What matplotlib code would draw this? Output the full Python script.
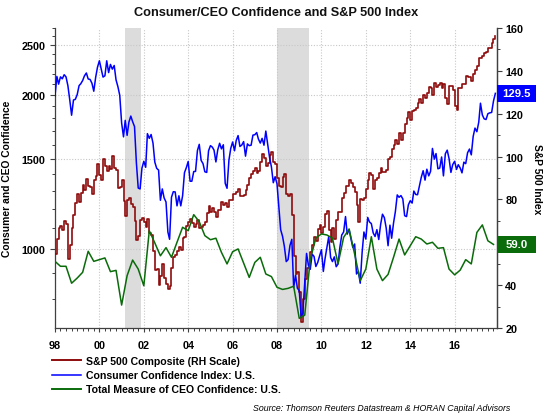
import numpy as np
import pandas as pd
import matplotlib
matplotlib.use("Agg")
import matplotlib.pyplot as plt
import matplotlib.dates as mdates
import matplotlib.ticker as mticker
from matplotlib.patches import Rectangle
from matplotlib.transforms import blended_transform_factory
from matplotlib.lines import Line2D

plt.rcParams['font.family'] = ['Liberation Sans', 'DejaVu Sans']
plt.rcParams['font.weight'] = 'bold'

# ---------------- data ----------------
sp500 = [
    980, 1049, 1102, 1112, 1091, 1134, 1121, 957, 1017, 1099, 1164, 1229,
    1280, 1238, 1286, 1335, 1302, 1373, 1329, 1320, 1283, 1363, 1389, 1469,
    1394, 1366, 1499, 1452, 1421, 1455, 1431, 1518, 1437, 1429, 1315, 1320,
    1366, 1240, 1160, 1249, 1256, 1224, 1211, 1134, 1041, 1060, 1139, 1148,
    1130, 1107, 1147, 1077, 1067, 990, 912, 916, 850, 886, 936, 880,
    856, 835, 848, 917, 964, 975, 990, 1008, 996, 1051, 1058, 1112,
    1131, 1145, 1126, 1107, 1121, 1141, 1102, 1104, 1115, 1130, 1174, 1212,
    1181, 1204, 1181, 1157, 1192, 1191, 1234, 1220, 1229, 1207, 1249, 1248,
    1280, 1281, 1295, 1311, 1270, 1270, 1277, 1304, 1336, 1378, 1401, 1418,
    1438, 1407, 1421, 1482, 1531, 1503, 1455, 1474, 1527, 1549, 1481, 1468,
    1379, 1331, 1323, 1386, 1400, 1280, 1267, 1283, 1166, 969, 896, 903,
    826, 720, 798, 873, 919, 919, 987, 1021, 1057, 1036, 1096, 1115,
    1074, 1104, 1169, 1187, 1089, 1031, 1102, 1049, 1141, 1183, 1181, 1258,
    1286, 1327, 1326, 1364, 1345, 1321, 1292, 1219, 1131, 1253, 1247, 1258,
    1312, 1366, 1408, 1398, 1310, 1362, 1379, 1407, 1441, 1412, 1416, 1426,
    1498, 1515, 1569, 1598, 1631, 1606, 1686, 1633, 1682, 1757, 1806, 1848,
    1783, 1859, 1872, 1884, 1924, 1960, 1931, 2003, 1972, 2018, 2068, 2059,
    1995, 2105, 2068, 2086, 2107, 2063, 2104, 1972, 1920, 2079, 2080, 2044,
    1900, 1870, 2060, 2065, 2097, 2099, 2174, 2171, 2168, 2126, 2199, 2239,
    2279, 2364, 2363, 2384, 2412, 2423, 2470, 2472, 2519, 2575, 2610,
]

consumer_conf = [
    128.3, 137.4, 133.8, 137.2, 136.3, 138.2, 137.2, 133.1, 126.4, 119.3, 126.4, 126.7,
    128.9, 133.1, 134.0, 135.5, 137.7, 139.0, 136.2, 136.0, 134.2, 130.5, 137.0, 141.7,
    144.7, 140.8, 137.1, 137.7, 144.7, 139.2, 143.0, 140.8, 142.5, 135.8, 132.6, 128.6,
    115.7, 109.2, 116.9, 109.9, 116.1, 118.9, 116.3, 114.0, 97.0, 85.3, 84.9, 94.6,
    97.8, 95.0, 110.7, 108.5, 110.3, 106.3, 97.4, 94.5, 93.7, 79.6, 84.9, 80.7,
    78.8, 64.8, 61.4, 81.0, 83.6, 83.5, 77.0, 81.7, 77.0, 81.7, 92.5, 94.8,
    97.7, 88.5, 88.5, 93.0, 93.1, 102.8, 105.7, 98.2, 96.7, 92.9, 92.6, 102.7,
    105.1, 104.4, 103.0, 97.5, 103.1, 106.2, 103.6, 105.5, 87.5, 85.2, 98.3, 103.8,
    106.8, 102.7, 107.5, 109.8, 104.7, 105.4, 107.0, 100.2, 105.9, 105.1, 105.3, 110.0,
    110.2, 111.2, 108.2, 106.3, 108.5, 105.3, 111.9, 105.6, 99.5, 95.2, 87.8, 90.6,
    87.3, 76.4, 65.9, 62.8, 58.1, 51.0, 51.9, 58.5, 61.4, 38.8, 44.7, 38.6,
    37.4, 25.3, 26.9, 40.8, 54.8, 49.3, 47.4, 54.5, 53.4, 48.7, 50.6, 53.6,
    56.5, 46.4, 52.3, 57.7, 62.7, 52.9, 51.0, 53.2, 48.6, 49.9, 57.8, 63.4,
    64.8, 72.0, 63.8, 66.0, 61.7, 57.6, 59.2, 45.2, 46.4, 40.9, 55.2, 64.8,
    61.5, 71.6, 69.5, 68.7, 64.4, 62.7, 65.9, 61.3, 68.4, 73.1, 71.5, 66.7,
    58.4, 68.0, 61.9, 69.0, 74.3, 82.1, 81.0, 81.8, 80.2, 72.4, 72.0, 77.5,
    79.4, 78.3, 83.9, 82.3, 82.2, 86.4, 90.3, 93.4, 89.0, 94.1, 91.0, 93.1,
    103.8, 98.8, 101.4, 94.3, 94.6, 99.8, 91.0, 101.3, 103.0, 99.1, 92.6, 96.3,
    97.8, 94.0, 96.2, 94.7, 92.4, 97.4, 96.7, 101.8, 103.5, 100.8, 109.4, 113.3,
    111.6, 116.1, 124.9, 119.4, 117.6, 117.3, 120.0, 120.4, 120.6, 125.9, 129.5,
]

ceo_conf = [
    51.1, 48.8, 48.8, 40.9,
    43.3, 46.0, 55.8, 51.1,
    51.9, 52.7, 46.3, 46.9,
    30.7, 44.4, 51.7, 47.5,
    39.7, 65.4, 59.7, 53.7,
    57.5, 53.0, 60.0, 67.0,
    65.4, 72.9, 69.6, 63.1,
    61.2, 61.9, 55.3, 49.9,
    55.6, 56.9, 50.3, 43.6,
    50.6, 53.0, 45.2, 44.0,
    39.0, 38.0, 38.5, 39.5,
    24.5, 26.0, 52.0, 62.0,
    63.9, 63.4, 61.9, 49.9,
    62.3, 66.2, 54.5, 42.1,
    47.5, 62.6, 47.5, 42.1,
    45.0, 53.0, 61.5, 54.1,
    58.4, 62.6, 61.5, 59.2,
    60.0, 57.2, 57.5, 47.5,
    44.8, 47.0, 51.9, 49.9,
    64.6, 68.1, 60.7, 59.0,
]

monthly_dates = pd.date_range('1998-01-01', periods=len(sp500), freq='MS')
quarterly_dates = pd.date_range('1998-01-01', periods=len(ceo_conf), freq='QS')

recessions = [('2001-03-05', '2001-11-10'), ('2008-01-01', '2009-06-10')]

left_ticks = [1000, 1500, 2000, 2500]
right_ticks = [20, 40, 60, 80, 100, 120, 140, 160]
right_labels = ['20', '40', '', '80', '100', '120', '140', '160']  # 60 hidden behind the value box
year_ticks = list(range(1998, 2017, 2))
year_labels = ['98', '00', '02', '04', '06', '08', '10', '12', '14', '16']

labels = ['S&P 500 Composite (RH Scale)', 'Consumer Confidence Index: U.S.',
          'Total Measure of CEO Confidence: U.S.']

# ---------------- styling ----------------
RED = '#8e0c0c'
BLUE = '#0000ff'
GREEN = '#0a6b0a'
AXC = '#404040'

fig = plt.figure(figsize=(5.53, 4.14), dpi=100)
ax = fig.add_axes([55 / 553, 1 - 329 / 414, 442 / 553, 300 / 414])
ax2 = ax.twinx()

# recession shading
for s, e in recessions:
    ax.axvspan(pd.Timestamp(s), pd.Timestamp(e), color='#dcdcdc', zorder=0, lw=0)

# lines
ax.plot(monthly_dates, sp500, color=RED, lw=1.2, drawstyle='steps-post', zorder=3)
ax2.plot(monthly_dates, consumer_conf, color=BLUE, lw=1.1, zorder=3)
ax2.plot(quarterly_dates, ceo_conf, color=GREEN, lw=1.1, zorder=3)

# left log axis
ax.set_yscale('log')
ax.set_ylim(702, 2700)
ax.yaxis.set_major_locator(mticker.FixedLocator(left_ticks))
ax.yaxis.set_major_formatter(mticker.FixedFormatter([str(v) for v in left_ticks]))
ax.yaxis.set_minor_locator(mticker.FixedLocator(np.arange(700, 2701, 100)))
ax.yaxis.set_minor_formatter(mticker.NullFormatter())

# right axis
ax2.set_ylim(20, 160)
ax2.yaxis.set_major_locator(mticker.FixedLocator(right_ticks))
ax2.yaxis.set_major_formatter(mticker.FixedFormatter(right_labels))
ax2.yaxis.set_minor_locator(mticker.MultipleLocator(10))

# x axis
ax.set_xlim(pd.Timestamp('1998-01-01'), pd.Timestamp('2017-11-28'))
ax.xaxis.set_major_locator(mticker.FixedLocator(
    [mdates.date2num(pd.Timestamp(f'{y}-01-01')) for y in year_ticks]))
ax.xaxis.set_major_formatter(mticker.FixedFormatter(year_labels))
ax.xaxis.set_minor_locator(mdates.MonthLocator(bymonth=[1, 4, 7, 10]))

# grid
ax.grid(True, which='major', axis='both', color='#c8c8c8', ls=(0, (1, 1.5)), lw=0.8, zorder=1)
ax.set_axisbelow(True)

for a in (ax, ax2):
    a.spines['top'].set_visible(False)
    for sp in ('left', 'right', 'bottom'):
        a.spines[sp].set_color(AXC)
        a.spines[sp].set_linewidth(0.9)
ax2.spines['left'].set_visible(False)
ax2.spines['bottom'].set_visible(False)

ax.tick_params(axis='y', which='major', length=3.5, width=0.8, color=AXC, pad=3.5,
               labelsize=7.8, labelcolor='black')
ax.tick_params(axis='y', which='minor', length=2, width=0.7, color=AXC)
ax.tick_params(axis='x', which='major', length=3, width=0.8, color=AXC, pad=5.5,
               labelsize=7.8, labelcolor='black')
ax.tick_params(axis='x', which='minor', length=2, width=0.7, color=AXC)
ax2.tick_params(axis='y', which='major', length=3.5, width=0.8, color=AXC, pad=2.5,
                labelsize=7.8, labelcolor='black')
ax2.tick_params(axis='y', which='minor', length=2, width=0.7, color=AXC)

ax.set_ylabel('Consumer and CEO Confidence', fontsize=7.4, fontweight='bold', labelpad=6)
ax2.set_ylabel('S&P 500 Index', fontsize=7.4, fontweight='bold', rotation=270,
               labelpad=10)
ax.yaxis.set_label_coords(-43 / 442, 0.5)
ax2.yaxis.set_label_coords(1 + 45 / 442, 0.5)

# end value boxes
trans = blended_transform_factory(ax2.transAxes, ax2.transData)
for val, col in ((consumer_conf[-1], BLUE), (ceo_conf[-1], GREEN)):
    h = 16.5 / (300 / 140)
    ax2.add_patch(Rectangle((1.0, val - h / 2), 39 / 442, h, transform=trans,
                            facecolor=col, edgecolor='none', clip_on=False, zorder=10))
    ax2.text(1.0 + 19.5 / 442, val, f'{val:.1f}', transform=trans, ha='center',
             va='center', color='white', fontsize=8.2, fontweight='bold',
             zorder=11, clip_on=False)

# title
fig.text(0.5, 1 - 13 / 414, 'Consumer/CEO Confidence and S&P 500 Index',
         ha='center', va='center', fontsize=9.2, fontweight='bold', color='#111111')

# legend
handles = [Line2D([], [], color=RED, lw=1.4), Line2D([], [], color=BLUE, lw=1.1),
           Line2D([], [], color=GREEN, lw=1.4)]
fig.legend(handles, labels, loc='upper left', bbox_to_anchor=(52 / 553, 1 - 357 / 414),
           frameon=False, handlelength=2.7, handletextpad=0.5,
           labelspacing=0.4, borderpad=0, borderaxespad=0,
           prop={'weight': 'bold', 'size': 7.6})

# source
fig.text(510 / 553, 1 - 409 / 414,
         'Source: Thomson Reuters Datastream & HORAN Capital Advisors',
         ha='right', va='center', fontsize=6.3, style='italic', fontweight='normal')

fig.savefig('out.png', dpi=100)
